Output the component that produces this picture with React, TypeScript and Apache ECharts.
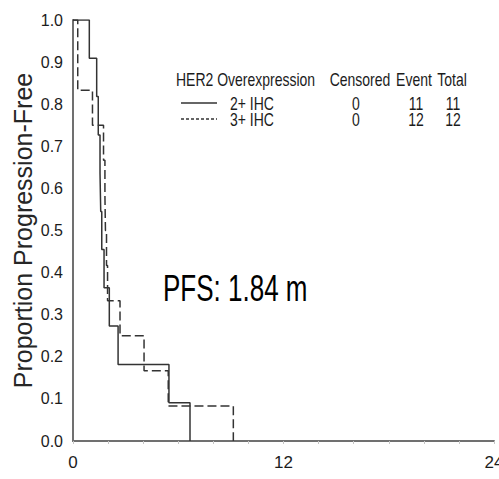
import React, { useEffect, useRef } from "react";
import * as echarts from "echarts";

// Kaplan-Meier steps (months, proportion progression-free)
const ihc2Times = [0, 0.93, 1.35, 1.44, 1.54, 1.58, 1.64, 1.77, 2.07, 2.57, 5.47, 6.67];
const ihc2Surv = [1, 0.909, 0.818, 0.727, 0.636, 0.545, 0.455, 0.364, 0.273, 0.182, 0.091, 0];

const ihc3Times = [0, 0.27, 1.11, 1.74, 1.82, 1.85, 1.91, 1.97, 2.68, 4.05, 5.43, 9.14];
const ihc3Surv = [1, 0.833, 0.75, 0.667, 0.583, 0.5, 0.417, 0.333, 0.25, 0.167, 0.083, 0];

// Summary table next to the curves
const tableHeader = ["HER2 Overexpression", "Censored", "Event", "Total"];
const groupNames = ["2+ IHC", "3+ IHC"];
const censored = [0, 0];
const events = [11, 12];
const totals = [11, 12];

const pfsLabel = "PFS: 1.84 m";
const xLabelTicks = [0, 12, 24];

const SANS = "'Liberation Sans', Arial, sans-serif";
const INK = "#1c1c1c";
const LINE = "#333333";
const AXIS = "#707070";

function pairs(t: number[], s: number[]) {
  return t.map((v, i) => [v, s[i]]);
}

// Tall, narrow-looking text: regular face stretched vertically about its anchor
function tallText(text: string, x: number, y: number, size: number, align: string, stretch: number, fill = INK) {
  return {
    type: "text",
    x,
    y,
    scaleY: stretch,
    style: { text, font: `${size}px ${SANS}`, fill, verticalAlign: "middle", align },
  };
}

export default function App() {
  const ref = useRef<HTMLDivElement>(null);

  useEffect(() => {
    if (!ref.current) return;
    const chart = echarts.init(ref.current, undefined, { renderer: "svg" });

    const rowY = [103, 119];
    const tableItems: any[] = [
      tallText(tableHeader[0], 176, 79, 14, "left", 1.3),
      tallText(tableHeader[1], 360, 79, 14, "center", 1.3),
      tallText(tableHeader[2], 414, 79, 14, "center", 1.3),
      tallText(tableHeader[3], 452, 79, 14, "center", 1.3),
    ];
    groupNames.forEach((g, i) => {
      const y = rowY[i];
      tableItems.push(
        {
          type: "line",
          shape: { x1: 181, y1: y, x2: 217, y2: y },
          style: { stroke: LINE, lineWidth: 1.5, lineDash: i === 0 ? null : [3, 2] },
        },
        tallText(g, 230, y, 14, "left", 1.3),
        tallText(String(censored[i]), 356, y, 14, "center", 1.3),
        tallText(String(events[i]), 416, y, 14, "center", 1.3),
        tallText(String(totals[i]), 453, y, 14, "center", 1.3)
      );
    });

    chart.setOption({
      animation: false,
      backgroundColor: "#ffffff",
      grid: { left: 73, right: 5, top: 20, bottom: 38, containLabel: false, outerBoundsMode: "none" },
      xAxis: {
        type: "value",
        min: 0,
        max: 24,
        interval: 2,
        offset: 6,
        splitLine: { show: false },
        axisLine: { show: true, lineStyle: { color: AXIS, width: 2 } },
        axisTick: { show: true, length: 3, lineStyle: { color: "#c4c4c4", width: 1 } },
        axisLabel: {
          color: INK,
          fontFamily: SANS,
          fontSize: 17,
          margin: 7,
          showMaxLabel: true,
          hideOverlap: false,
          formatter: (v: number) => (xLabelTicks.includes(v) ? String(v) : ""),
        },
      },
      yAxis: {
        type: "value",
        min: 0,
        max: 1,
        interval: 0.1,
        offset: 2,
        name: "Proportion Progression-Free",
        nameLocation: "middle",
        nameGap: 36,
        nameMoveOverlap: false,
        nameTextStyle: { color: "#262626", fontFamily: SANS, fontSize: 25 },
        splitLine: { show: false },
        axisLine: { show: true, lineStyle: { color: AXIS, width: 2 } },
        axisTick: { show: false },
        axisLabel: {
          color: INK,
          fontFamily: SANS,
          fontSize: 16,
          margin: 8,
          formatter: (v: number) => v.toFixed(1),
        },
      },
      series: [
        {
          name: groupNames[0],
          type: "line",
          step: "end",
          data: pairs(ihc2Times, ihc2Surv),
          symbol: "none",
          lineStyle: { color: LINE, width: 1.5, type: "solid" },
        },
        {
          name: groupNames[1],
          type: "line",
          step: "end",
          data: pairs(ihc3Times, ihc3Surv),
          symbol: "none",
          lineStyle: { color: LINE, width: 1.5, type: [9, 4] },
        },
      ],
      graphic: [...tableItems, tallText(pfsLabel, 163, 288, 26, "left", 1.45, "#000000")],
    });

    return () => chart.dispose();
  }, []);

  return <div ref={ref} style={{ position: "fixed", left: 0, top: 0, width: 499, height: 479 }} />;
}
